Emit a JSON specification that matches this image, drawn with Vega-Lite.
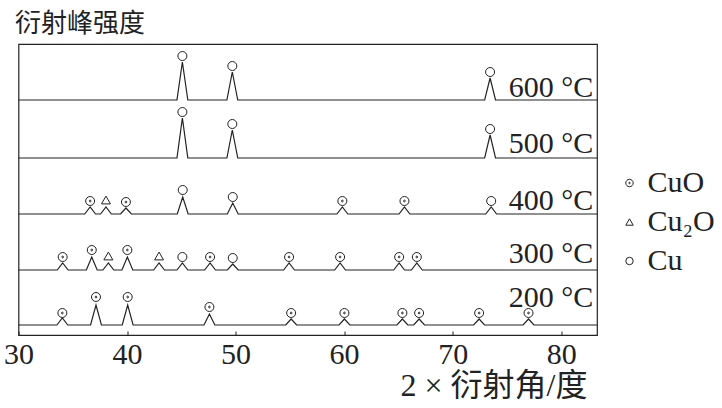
{
  "$schema": "https://vega.github.io/schema/vega-lite/v6.json",
  "width": 578.5,
  "height": 291,
  "autosize": "none",
  "padding": {"left": 18.5, "top": 44, "right": 125, "bottom": 73},
  "background": "white",
  "config": {
    "view": {"stroke": "#222", "strokeWidth": 1.2},
    "font": "Liberation Serif"
  },
  "datasets": {
    "lines": [
      {"T": "600", "x": 30, "y": 235}, {"T": "600", "x": 44.6, "y": 235}, {"T": "600", "x": 45.1, "y": 273}, {"T": "600", "x": 45.6, "y": 235},
      {"T": "600", "x": 49.2, "y": 235}, {"T": "600", "x": 49.7, "y": 263}, {"T": "600", "x": 50.2, "y": 235},
      {"T": "600", "x": 72.95, "y": 235}, {"T": "600", "x": 73.45, "y": 257}, {"T": "600", "x": 73.95, "y": 235}, {"T": "600", "x": 83.3, "y": 235},

      {"T": "500", "x": 30, "y": 177}, {"T": "500", "x": 44.6, "y": 177}, {"T": "500", "x": 45.1, "y": 217}, {"T": "500", "x": 45.6, "y": 177},
      {"T": "500", "x": 49.2, "y": 177}, {"T": "500", "x": 49.7, "y": 205}, {"T": "500", "x": 50.2, "y": 177},
      {"T": "500", "x": 72.95, "y": 177}, {"T": "500", "x": 73.45, "y": 200}, {"T": "500", "x": 73.95, "y": 177}, {"T": "500", "x": 83.3, "y": 177},

      {"T": "400", "x": 30, "y": 121},
      {"T": "400", "x": 36.1, "y": 121}, {"T": "400", "x": 36.6, "y": 128}, {"T": "400", "x": 37.1, "y": 121},
      {"T": "400", "x": 37.56, "y": 121}, {"T": "400", "x": 38.06, "y": 128}, {"T": "400", "x": 38.56, "y": 121},
      {"T": "400", "x": 39.4, "y": 121}, {"T": "400", "x": 39.9, "y": 127}, {"T": "400", "x": 40.4, "y": 121},
      {"T": "400", "x": 44.63, "y": 121}, {"T": "400", "x": 45.13, "y": 138}, {"T": "400", "x": 45.63, "y": 121},
      {"T": "400", "x": 49.24, "y": 121}, {"T": "400", "x": 49.74, "y": 132}, {"T": "400", "x": 50.24, "y": 121},
      {"T": "400", "x": 59.34, "y": 121}, {"T": "400", "x": 59.84, "y": 128}, {"T": "400", "x": 60.34, "y": 121},
      {"T": "400", "x": 65.06, "y": 121}, {"T": "400", "x": 65.56, "y": 128}, {"T": "400", "x": 66.06, "y": 121},
      {"T": "400", "x": 73.05, "y": 121}, {"T": "400", "x": 73.55, "y": 128}, {"T": "400", "x": 74.05, "y": 121},
      {"T": "400", "x": 83.3, "y": 121},

      {"T": "300", "x": 30, "y": 65},
      {"T": "300", "x": 33.57, "y": 65}, {"T": "300", "x": 34.07, "y": 72}, {"T": "300", "x": 34.57, "y": 65},
      {"T": "300", "x": 36.25, "y": 65}, {"T": "300", "x": 36.75, "y": 78}, {"T": "300", "x": 37.25, "y": 65},
      {"T": "300", "x": 37.78, "y": 65}, {"T": "300", "x": 38.28, "y": 72}, {"T": "300", "x": 38.78, "y": 65},
      {"T": "300", "x": 39.53, "y": 65}, {"T": "300", "x": 40.03, "y": 78}, {"T": "300", "x": 40.53, "y": 65},
      {"T": "300", "x": 42.45, "y": 65}, {"T": "300", "x": 42.95, "y": 72}, {"T": "300", "x": 43.45, "y": 65},
      {"T": "300", "x": 44.6, "y": 65}, {"T": "300", "x": 45.1, "y": 72}, {"T": "300", "x": 45.6, "y": 65},
      {"T": "300", "x": 47.15, "y": 65}, {"T": "300", "x": 47.65, "y": 72}, {"T": "300", "x": 48.15, "y": 65},
      {"T": "300", "x": 49.24, "y": 65}, {"T": "300", "x": 49.74, "y": 71}, {"T": "300", "x": 50.24, "y": 65},
      {"T": "300", "x": 54.43, "y": 65}, {"T": "300", "x": 54.93, "y": 72}, {"T": "300", "x": 55.43, "y": 65},
      {"T": "300", "x": 59.13, "y": 65}, {"T": "300", "x": 59.63, "y": 72}, {"T": "300", "x": 60.13, "y": 65},
      {"T": "300", "x": 64.57, "y": 65}, {"T": "300", "x": 65.07, "y": 72}, {"T": "300", "x": 65.57, "y": 65},
      {"T": "300", "x": 66.2, "y": 65}, {"T": "300", "x": 66.7, "y": 72}, {"T": "300", "x": 67.2, "y": 65},
      {"T": "300", "x": 83.3, "y": 65},

      {"T": "200", "x": 30, "y": 10},
      {"T": "200", "x": 33.54, "y": 10}, {"T": "200", "x": 34.04, "y": 17}, {"T": "200", "x": 34.54, "y": 10},
      {"T": "200", "x": 36.64, "y": 10}, {"T": "200", "x": 37.14, "y": 30}, {"T": "200", "x": 37.64, "y": 10},
      {"T": "200", "x": 39.56, "y": 10}, {"T": "200", "x": 40.06, "y": 30}, {"T": "200", "x": 40.56, "y": 10},
      {"T": "200", "x": 47.09, "y": 10}, {"T": "200", "x": 47.59, "y": 21}, {"T": "200", "x": 48.09, "y": 10},
      {"T": "200", "x": 54.62, "y": 10}, {"T": "200", "x": 55.12, "y": 16}, {"T": "200", "x": 55.62, "y": 10},
      {"T": "200", "x": 59.53, "y": 10}, {"T": "200", "x": 60.03, "y": 16}, {"T": "200", "x": 60.53, "y": 10},
      {"T": "200", "x": 64.87, "y": 10}, {"T": "200", "x": 65.37, "y": 16}, {"T": "200", "x": 65.87, "y": 10},
      {"T": "200", "x": 66.41, "y": 10}, {"T": "200", "x": 66.91, "y": 16}, {"T": "200", "x": 67.41, "y": 10},
      {"T": "200", "x": 71.94, "y": 10}, {"T": "200", "x": 72.44, "y": 16}, {"T": "200", "x": 72.94, "y": 10},
      {"T": "200", "x": 76.49, "y": 10}, {"T": "200", "x": 76.99, "y": 16}, {"T": "200", "x": 77.49, "y": 10},
      {"T": "200", "x": 83.3, "y": 10}
    ],
    "markers": [
      {"phase": "Cu", "x": 45.1, "y": 279}, {"phase": "Cu", "x": 49.7, "y": 269}, {"phase": "Cu", "x": 73.45, "y": 263},
      {"phase": "Cu", "x": 45.1, "y": 223}, {"phase": "Cu", "x": 49.7, "y": 211}, {"phase": "Cu", "x": 73.45, "y": 206},
      {"phase": "CuO", "x": 36.6, "y": 134}, {"phase": "Cu₂O", "x": 38.06, "y": 135}, {"phase": "CuO", "x": 39.9, "y": 133},
      {"phase": "Cu", "x": 45.13, "y": 145}, {"phase": "Cu", "x": 49.74, "y": 138}, {"phase": "CuO", "x": 59.84, "y": 134},
      {"phase": "CuO", "x": 65.56, "y": 134}, {"phase": "Cu", "x": 73.55, "y": 134},
      {"phase": "CuO", "x": 34.07, "y": 78}, {"phase": "CuO", "x": 36.75, "y": 85}, {"phase": "Cu₂O", "x": 38.28, "y": 79},
      {"phase": "CuO", "x": 40.03, "y": 85}, {"phase": "Cu₂O", "x": 42.95, "y": 79}, {"phase": "Cu", "x": 45.1, "y": 78},
      {"phase": "CuO", "x": 47.65, "y": 78}, {"phase": "Cu", "x": 49.74, "y": 77}, {"phase": "CuO", "x": 54.93, "y": 78},
      {"phase": "CuO", "x": 59.63, "y": 78}, {"phase": "CuO", "x": 65.07, "y": 78}, {"phase": "CuO", "x": 66.7, "y": 78},
      {"phase": "CuO", "x": 34.04, "y": 22}, {"phase": "CuO", "x": 37.14, "y": 38}, {"phase": "CuO", "x": 40.06, "y": 38},
      {"phase": "CuO", "x": 47.59, "y": 28}, {"phase": "CuO", "x": 55.12, "y": 22}, {"phase": "CuO", "x": 60.03, "y": 22},
      {"phase": "CuO", "x": 65.37, "y": 22}, {"phase": "CuO", "x": 66.91, "y": 22}, {"phase": "CuO", "x": 72.44, "y": 22},
      {"phase": "CuO", "x": 76.99, "y": 22}
    ],
    "labels": [
      {"label": "600 °C", "x": 82.95, "y": 238},
      {"label": "500 °C", "x": 82.95, "y": 182},
      {"label": "400 °C", "x": 82.95, "y": 125},
      {"label": "300 °C", "x": 82.95, "y": 72},
      {"label": "200 °C", "x": 82.95, "y": 28}
    ]
  },
  "layer": [
    {
      "data": {"name": "lines"},
      "mark": {"type": "line", "color": "#222", "strokeWidth": 1.2, "interpolate": "linear"},
      "encoding": {
        "x": {
          "field": "x", "type": "quantitative",
          "scale": {"domain": [30, 83.3], "nice": false, "zero": false},
          "axis": {
            "title": "2 × 衍射角/度",
            "titleFont": "Liberation Serif, Noto Sans CJK SC",
            "titleFontSize": 32, "titleFontWeight": "normal", "titleColor": "#222",
            "titleAlign": "right", "titleBaseline": "alphabetic",
            "titleX": 568.5, "titleY": 60,
            "values": [30, 40, 50, 60, 70, 80],
            "grid": false, "domain": false,
            "tickSize": -4, "tickColor": "#222", "tickWidth": 1,
            "labelFont": "Liberation Serif", "labelFontSize": 30, "labelColor": "#222",
            "labelBaseline": "alphabetic", "labelPadding": 32,
            "labelFlush": false, "labelOverlap": false
          }
        },
        "y": {
          "field": "y", "type": "quantitative",
          "scale": {"domain": [0, 291], "nice": false, "zero": false},
          "axis": {
            "title": "衍射峰强度",
            "titleFont": "Noto Sans CJK SC", "titleFontSize": 26, "titleFontWeight": "normal", "titleColor": "#222",
            "titleAngle": 0, "titleAlign": "left", "titleBaseline": "alphabetic",
            "titleX": -4, "titleY": -13,
            "labels": false, "ticks": false, "domain": false, "grid": false
          }
        },
        "detail": {"field": "T", "type": "nominal"}
      }
    },
    {
      "data": {"name": "markers"},
      "mark": {"type": "point", "filled": false, "size": 81, "strokeWidth": 1, "color": "#222", "opacity": 1},
      "encoding": {
        "x": {"field": "x", "type": "quantitative"},
        "y": {"field": "y", "type": "quantitative"},
        "shape": {
          "field": "phase", "type": "nominal",
          "scale": {
            "domain": ["CuO", "Cu₂O", "Cu"],
            "range": ["M-1,0A1,1,0,1,1,1,0A1,1,0,1,1,-1,0Z M-0.2,0A0.2,0.2,0,1,1,0.2,0A0.2,0.2,0,1,1,-0.2,0Z", "triangle-up", "circle"]
          },
          "legend": {
            "orient": "none", "legendX": 596, "legendY": 124,
            "title": null,
            "labelFont": "Liberation Serif", "labelFontSize": 30, "labelColor": "#222",
            "symbolSize": 55, "symbolStrokeColor": "#222", "symbolStrokeWidth": 1, "symbolFillColor": "transparent",
            "rowPadding": 9, "labelOffset": 3, "symbolOpacity": 1
          }
        }
      }
    },
    {
      "data": {"name": "labels"},
      "mark": {"type": "text", "align": "right", "baseline": "alphabetic", "font": "Liberation Serif", "fontSize": 30, "color": "#222"},
      "encoding": {
        "x": {"field": "x", "type": "quantitative"},
        "y": {"field": "y", "type": "quantitative"},
        "text": {"field": "label", "type": "nominal"}
      }
    }
  ]
}
